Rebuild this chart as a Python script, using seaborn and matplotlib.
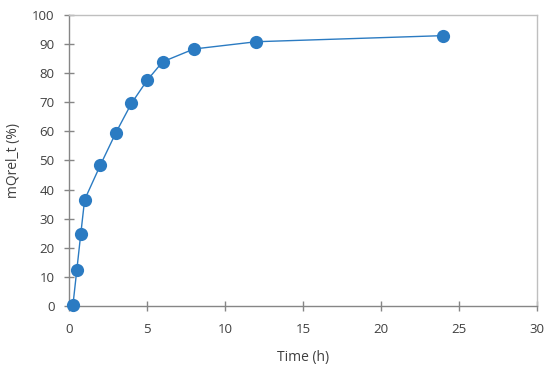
import pandas as pd
import matplotlib.pyplot as plt
import seaborn as sns

# datos
time_h = [0.25, 0.5, 0.75, 1, 2, 3, 4, 5, 6, 8, 12, 24]
mqrel = [0.3, 12.4, 24.6, 36.5, 48.3, 59.5, 69.6, 77.5, 83.9, 88.3, 90.8, 92.9]

df = pd.DataFrame({"time": time_h, "mqrel": mqrel})

sns.set_style("white")
plt.rcParams["font.family"] = ["Open Sans", "DejaVu Sans"]

fig = plt.figure(figsize=(5.5, 3.74), dpi=100)
ax = fig.add_axes([0.1255, 0.182, 0.851, 0.778])

sns.lineplot(
    data=df,
    x="time",
    y="mqrel",
    ax=ax,
    color="#2B7BC2",
    linewidth=1.0,
    marker="o",
    markersize=9.5,
    markeredgewidth=0,
    clip_on=False,
    zorder=5,
)

ax.set_xlim(0, 30)
ax.set_ylim(0, 100)
ax.set_xticks(range(0, 31, 5))
ax.set_yticks(range(0, 101, 10))

for side, sp in ax.spines.items():
    sp.set_color("#BFBFBF")
    sp.set_linewidth(1.0)
ax.spines["left"].set_color("#868686")
ax.spines["bottom"].set_color("#868686")

ax.tick_params(axis="both", direction="inout", length=7, width=1.0,
               color="#868686", labelsize=9.5, labelcolor="#404040")
ax.tick_params(axis="x", pad=9)
ax.tick_params(axis="y", pad=7)
ax.tick_params(left=True, bottom=True)

ax.set_xlabel("Time (h)", fontsize=10, color="#404040", labelpad=10)
ax.set_ylabel("mQrel_t (%)", fontsize=10, color="#404040", labelpad=8)

fig.savefig("out.png", dpi=100)
plt.close(fig)
